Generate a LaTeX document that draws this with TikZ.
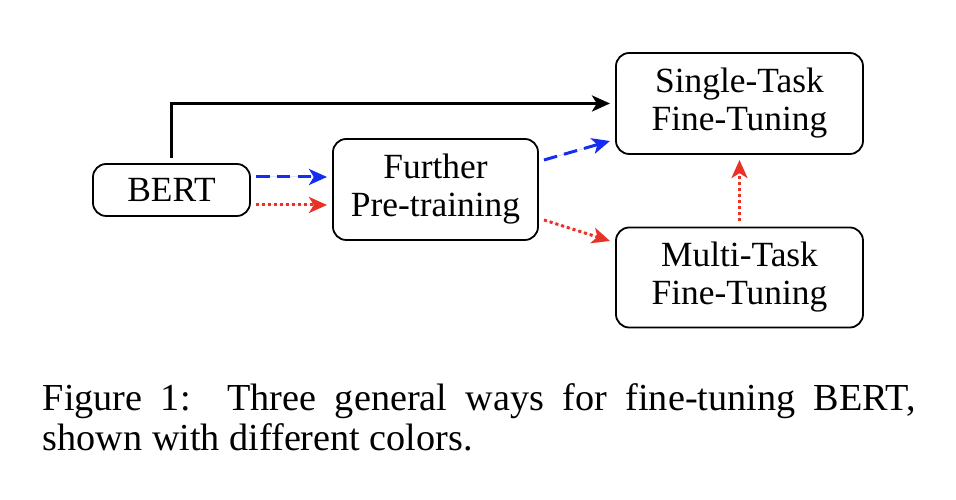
\documentclass[tikz,border=0pt]{standalone}
\usepackage{fontspec}
\setmainfont{Liberation Serif}
\usetikzlibrary{arrows.meta}
\definecolor{cblue}{RGB}{20,45,240}
\definecolor{cred}{RGB}{232,50,40}
\begin{document}
\begin{tikzpicture}[x=0.25pt,y=-0.25pt,
  box/.style={draw=black, line width=0.45pt, rounded corners=3.3pt, align=center,
    inner sep=0pt, outer sep=1.5pt, font=\fontsize{8.85}{9.5}\selectfont},
  conn/.style={line width=0.75pt, -{Stealth[length=4.5pt,width=4pt,inset=1.2pt]}},
  bluedash/.style={conn, draw=cblue, fill=cblue, dash pattern=on 3.4pt off 1.8pt},
  reddot/.style={conn, draw=cred, fill=cred, dash pattern=on 0.75pt off 0.75pt},
  captext/.style={inner sep=0pt, anchor=base west, font=\fontsize{9.55}{10}\selectfont}]
\useasboundingbox (0,0) rectangle (956,500);
\node[box, minimum width=39.25pt, minimum height=13pt] (bert) at (171.5,190) {BERT};
\node[box, minimum width=51.25pt, minimum height=25.25pt] (further) at (435.5,189.5) {Further\\Pre-training};
\node[box, minimum width=61.75pt, minimum height=25.25pt] (single) at (739.5,103.5) {Single-Task\\Fine-Tuning};
\node[box, minimum width=61.75pt, minimum height=25pt] (multi) at (739.5,277.5) {Multi-Task\\Fine-Tuning};
\draw[conn] (bert.north) |- (single.west);
\draw[bluedash] (bert.east |- 0,177) -- (further.west |- 0,177);
\draw[reddot] (bert.east |- 0,205) -- (further.west |- 0,205);
\draw[bluedash] (further.east |- 0,160) -- (single.west |- 0,141);
\draw[reddot] (further.east |- 0,220) -- (multi.west |- 0,241);
\draw[reddot] (multi.north) -- (single.south);
\node[captext] (cap1) at (42,411) {\makebox[218.25pt][s]{Figure 1:\ \ Three general ways for fine-tuning BERT,}};
\node[captext] (cap2) at (42,451) {shown with different colors.};
\end{tikzpicture}
\end{document}
